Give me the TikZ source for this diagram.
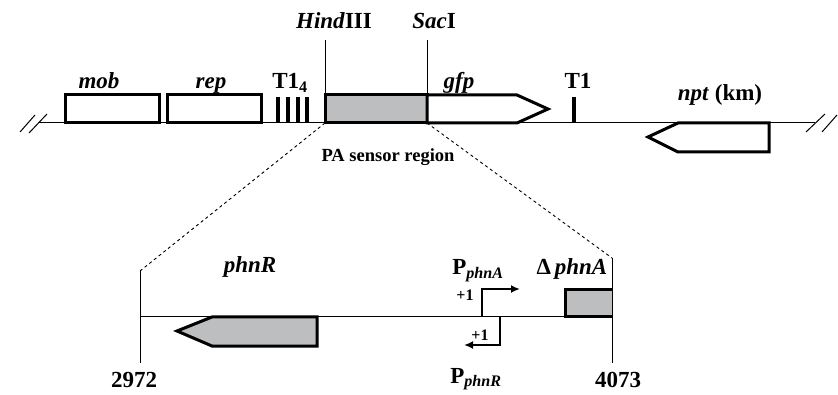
\documentclass[tikz,border=0pt]{standalone}
\usepackage{fontspec}
\setmainfont{Liberation Serif}
\usetikzlibrary{arrows.meta}
\definecolor{sensorgray}{HTML}{BDBEC0}
\tikzset{
  gene/.style={draw=black,line width=3pt,fill=white,line join=miter},
  sensor/.style={draw=black,line width=3pt,fill=sensorgray,line join=miter},
  term/.style={draw=black,line width=3.3pt},
  dna/.style={draw=black,line width=1pt},
  site/.style={draw=black,line width=0.9pt},
  zoomline/.style={draw=black,line width=0.9pt,dash pattern=on 3pt off 3pt},
  prom/.style={draw=black,line width=2.6pt,-{Latex[length=9pt,width=8pt]}},
  lbl/.style={font=\fontsize{23}{26}\selectfont\bfseries,anchor=base,inner sep=0pt},
  smalllbl/.style={font=\fontsize{18.5}{21}\selectfont\bfseries,anchor=base,inner sep=0pt},
  onelbl/.style={font=\fontsize{16}{19}\selectfont\bfseries,inner sep=0pt}
}

\begin{document}
\begin{tikzpicture}[x=1pt,y=-1pt]
\useasboundingbox (0,0) rectangle (838,395);
% plasmid backbone
\coordinate (lstart) at (38,123);
\coordinate (lend) at (815,123);
\draw[dna] (lstart) -- (lend);
\draw[dna] (20,132) -- (35,115);
\draw[dna] (29,133) -- (47,114);
\draw[dna] (806,132) -- (825,114);
\draw[dna] (822,132) -- (837,115);
% genes
\draw[gene] (65,95) rectangle (159,123);
\draw[gene] (167,95) rectangle (261,123);
\foreach \x in {278,288,298,307}
  \draw[term] (\x,97) -- (\x,123);
\draw[sensor] (325,95) rectangle (427,123);
\draw[gene] (427,95) -- (517,95) -- (548,109) -- (517,123) -- (427,123) -- cycle;
\draw[term] (574,97) -- (574,123);
\draw[gene] (769,123) -- (678,123) -- (648,137) -- (678,152) -- (769,152) -- cycle;
% restriction sites
\coordinate (hind) at (325,123);
\coordinate (sac) at (427,123);
\coordinate (hindtop) at (325,40);
\coordinate (sactop) at (427,40);
\draw[site] (hindtop) -- (hind);
\draw[site] (sactop) -- (sac);
% labels
\node[lbl] (mob) at (99,89) {\textit{mob}};
\node[lbl] (rep) at (211,89) {\textit{rep}};
\node[lbl] (t14) at (290,89) {T1\textsubscript{4}};
\node[lbl] (hindlbl) at (334,29) {\textit{Hind}III};
\node[lbl] (saclbl) at (434,29) {\textit{Sac}I};
\node[lbl] (gfp) at (459,89) {\textit{gfp}};
\node[lbl] (t1) at (578,89) {T1};
\node[lbl] (npt) at (720,101) {\textit{npt} (km)};
\node[smalllbl] (region) at (388,162) {PA sensor region};
% enlarged region
\coordinate (left) at (140,317);
\coordinate (right) at (612,317);
\coordinate (lefttop) at (140,271);
\coordinate (righttop) at (612,258);
\coordinate (leftbot) at (140,363);
\coordinate (rightbot) at (612,363);
\draw[zoomline] (hind) -- (lefttop);
\draw[zoomline] (sac) -- (righttop);
\draw[dna] (left) -- (right);
\draw[site] (lefttop) -- (leftbot);
\draw[site] (righttop) -- (rightbot);
\draw[sensor] (317,317) -- (212,317) -- (177,331) -- (212,346) -- (317,346) -- cycle;
\fill[sensorgray] (565,290) rectangle (612,317);
\draw[gene,fill=none] (612,290) -- (565,290) -- (565,317) -- (612,317);
% promoters
\coordinate (pa) at (482,317);
\coordinate (pr) at (500,317);
\draw[prom] (pa) -- (482,289) -- (520,289);
\draw[prom] (pr) -- (500,345) -- (464,345);
\node[lbl] (phnr) at (250,273) {\textit{phnR}};
\node[lbl] (dphna) at (572,275) {Δ\,\textit{phnA}};
\node[lbl] (pphna) at (478,275) {P\textsubscript{\textit{phnA}}};
\node[lbl] (pphnr) at (476,383) {P\textsubscript{\textit{phnR}}};
\node[onelbl] (plusa) at (465,295) {+1};
\node[onelbl] (plusr) at (480,335) {+1};
\node[lbl] (n2972) at (134,387) {2972};
\node[lbl] (n4073) at (618,387) {4073};
\end{tikzpicture}
\end{document}
